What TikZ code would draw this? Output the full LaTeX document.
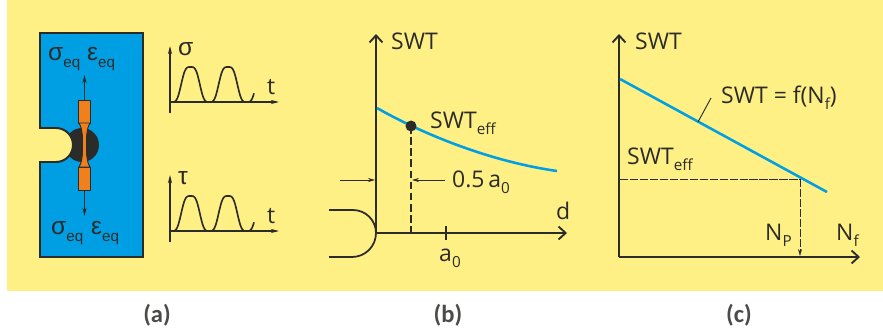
\documentclass[tikz,border=0pt]{standalone}
\usepackage{fontspec}
\setmainfont{Open Sans}
\newfontfamily\capfont{Carlito}
\newfontfamily\grkfont{Liberation Sans}
\usetikzlibrary{arrows.meta, positioning, calc}
\definecolor{bgyellow}{RGB}{255, 240, 134}
\definecolor{plateblue}{RGB}{0, 159, 227}
\definecolor{curveblue}{RGB}{0, 160, 226}
\definecolor{inkdark}{RGB}{43, 43, 42}
\definecolor{probeorange}{RGB}{240, 127, 30}
\newcommand{\lowtxt}[1]{\raisebox{-0.3em}{\fontsize{13}{13}\selectfont #1}}
\tikzset{
  lab/.style={anchor=base west, inner sep=0pt, text=inkdark, font=\fontsize{19.6}{22}\selectfont},
  grk/.style={lab, font=\fontsize{21}{22}\selectfont\grkfont},
  capt/.style={inner sep=0pt, text=inkdark!85, font=\fontsize{21}{24}\selectfont\capfont\bfseries},
  axis/.style={inkdark, line width=1.8pt, -{Straight Barb[length=6pt, width=11pt, line width=1.6pt]}},
  thinaxis/.style={inkdark, line width=0.9pt, -{Stealth[length=7pt, width=3.5pt]}},
  dimline/.style={inkdark, line width=0.8pt, -{Stealth[length=6pt, width=3.5pt]}},
  curve/.style={curveblue, line width=2.2pt},
}
\begin{document}
\begin{tikzpicture}[x=0.03cm, y=-0.03cm]
  \useasboundingbox (0,0) rectangle (883,335);
  \fill[white] (0,0) rectangle (883,335);
  \fill[bgyellow] (7,0) rectangle (883,291);

  % plate with notch
  \fill[plateblue] (40,33) rectangle (143,257);
  \fill[inkdark] (82,145) circle (17);
  \fill[bgyellow] (38,128) -- (56,128) arc[start angle=-90, end angle=90, radius=17] -- (38,162) -- cycle;
  \draw[inkdark, line width=1.7pt] (40,128) -- (56,128) arc[start angle=-90, end angle=90, radius=17] -- (40,162)
    -- (40,257) -- (143,257) -- (143,33) -- (40,33) -- cycle;

  % probe
  \coordinate (probetop) at (84.5,100);
  \coordinate (probebot) at (84.5,190);
  \coordinate (tiptop) at (84.5,75);
  \coordinate (tipbot) at (84.5,216);
  \draw[thinaxis] (probetop) -- (tiptop);
  \draw[thinaxis] (probebot) -- (tipbot);
  \filldraw[fill=probeorange, draw=inkdark, line width=0.8pt] (78.5,100) rectangle (90.5,123);
  \filldraw[fill=probeorange, draw=inkdark, line width=0.8pt] (78.5,167) rectangle (90.5,190);
  \filldraw[fill=probeorange, draw=inkdark, line width=0.8pt] (79,123) .. controls (83,130) and (82.5,138) .. (82.5,145)
    .. controls (82.5,152) and (83,160) .. (79,167) -- (90,167) .. controls (86,160) and (86.5,152) .. (86.5,145)
    .. controls (86.5,138) and (86,130) .. (90,123) -- cycle;

  \node[grk] (sigtop) at (48,60) {σ\lowtxt{eq}};
  \node[grk] (epstop) at (87,60) {ε\lowtxt{eq}};
  \node[grk] (sigbot) at (51,234) {σ\lowtxt{eq}};
  \node[grk] (epsbot) at (91,234) {ε\lowtxt{eq}};

  % load histories
  \foreach \ybase/\nm/\sym in {102/s/σ, 231/t/τ} {
    \coordinate (o\nm) at (170,\ybase);
    \coordinate (ytip\nm) at (170,\ybase-56);
    \coordinate (ystart\nm) at (170,\ybase+11);
    \coordinate (xtip\nm) at (279,\ybase);
    \draw[thinaxis] (ystart\nm) -- (ytip\nm);
    \draw[thinaxis] (o\nm) -- (xtip\nm);
    \draw[inkdark, line width=1.4pt, smooth, samples=80, domain=171.25:254]
      plot (\x, {\ybase-17.5-17.5*(1.5*cos(9.6*(\x-190.5))-0.5*pow(cos(9.6*(\x-190.5)),3))});
    \node[grk] (lab\nm) at (178,\ybase-47) {\sym};
    \node[lab] (t\nm) at (267,\ybase-8) {t};
  }

  % panel b
  \coordinate (ob) at (376,233);
  \coordinate (ytipb) at (376,34);
  \coordinate (xtipb) at (567,233);
  \draw[axis] (ob) -- (ytipb);
  \draw[axis] (ob) -- (xtipb);
  \draw[inkdark, line width=1.5pt] (329,210) -- (353,210) arc[start angle=-90, end angle=0, radius=23]
    arc[start angle=0, end angle=90, radius=24] -- (329,257);
  \draw[curve] (377,108) .. controls (410,127) and (480,160) .. (557,171);
  \coordinate (dotb) at (411,126);
  \coordinate (footb) at (411,233);
  \fill[inkdark] (dotb) circle (5.5);
  \draw[inkdark, line width=1.6pt, dashed, dash pattern=on 6.5pt off 3pt] (dotb) -- (footb);
  \draw[inkdark, line width=1.5pt] (446,226) -- (446,240);
  \coordinate (dimla) at (340,180);
  \coordinate (dimlb) at (375,180);
  \coordinate (dimra) at (445,180);
  \coordinate (dimrb) at (412,180);
  \draw[dimline] (dimla) -- (dimlb);
  \draw[dimline] (dimra) -- (dimrb);
  \node[lab] (swtb) at (391,49) {SWT};
  \node[lab] (effb) at (430,128) {SWT\lowtxt{eff}};
  \node[lab] (halfa) at (452,187) {0.5\,a\lowtxt{0}};
  \node[lab] (dlab) at (556,219) {d};
  \node[lab] (azero) at (439,261) {a\lowtxt{0}};

  % panel c
  \coordinate (oc) at (619,257);
  \coordinate (ytipc) at (619,34);
  \coordinate (xtipc) at (860,257);
  \draw[axis] (oc) -- (ytipc);
  \draw[axis] (oc) -- (xtipc);
  \coordinate (linea) at (620,79);
  \coordinate (lineb) at (827,192);
  \draw[curve] (linea) -- (lineb);
  \coordinate (leada) at (698,122);
  \coordinate (leadb) at (711,98);
  \draw[inkdark, line width=0.8pt] (leada) -- (leadb);
  \coordinate (hita) at (620,179);
  \coordinate (hitb) at (800,179);
  \coordinate (hitc) at (800,256);
  \draw[inkdark, line width=0.8pt, dashed, dash pattern=on 7pt off 1.5pt] (hita) -- (hitb);
  \draw[inkdark, line width=0.8pt, dashed, dash pattern=on 7pt off 1.5pt, -{Stealth[length=6pt, width=3.5pt]}] (hitb) -- (hitc);
  \node[lab] (swtc) at (635,49) {SWT};
  \node[lab] (fnc) at (721,103) {SWT = f(N\lowtxt{f})};
  \node[lab] (effc) at (627,164) {SWT\lowtxt{eff}};
  \node[lab] (np) at (765,240) {N\lowtxt{P}};
  \node[lab] (nf) at (836,240) {N\lowtxt{f}};

  % captions
  \node[capt] (capa) at (157,315) {(a)};
  \node[capt] (capb) at (448,315) {(b)};
  \node[capt] (capc) at (739,315) {(c)};
\end{tikzpicture}
\end{document}
